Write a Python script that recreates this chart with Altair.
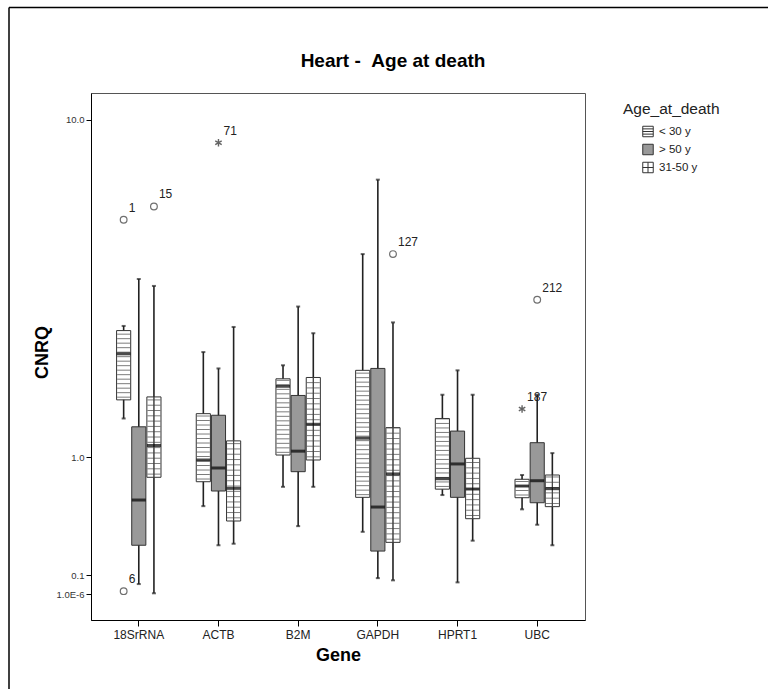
import math
import altair as alt
import pandas as pd

# ---- data -------------------------------------------------------------
genes = ["18SrRNA", "ACTB", "B2M", "GAPDH", "HPRT1", "UBC"]
groups = ["< 30 y", "> 50 y", "31-50 y"]

# box-plot summaries, gene by gene, each in the order of `groups`
whisker_low = [1.43, 0.052, 0.004,
               0.56, 0.28, 0.29,
               0.72, 0.41, 0.72,
               0.37, 0.084, 0.072,
               0.65, 0.061, 0.31,
               0.535, 0.42, 0.28]
q1 = [1.67, 0.28, 0.805,
      0.765, 0.684, 0.447,
      1.02, 0.857, 0.97,
      0.631, 0.243, 0.299,
      0.70, 0.631, 0.464,
      0.628, 0.587, 0.556]
median = [2.37, 0.609, 1.12,
          0.97, 0.892, 0.707,
          1.86, 1.06, 1.36,
          1.20, 0.553, 0.836,
          0.792, 0.931, 0.701,
          0.727, 0.774, 0.704]
q3 = [2.79, 1.33, 1.71,
      1.49, 1.47, 1.17,
      1.97, 1.73, 1.99,
      2.10, 2.13, 1.32,
      1.43, 1.28, 0.987,
      0.787, 1.15, 0.826]
whisker_high = [2.88, 3.92, 3.75,
                2.40, 2.13, 2.86,
                2.18, 3.28, 2.74,
                4.58, 7.13, 2.95,
                1.74, 2.10, 1.74,
                0.826, 1.74, 1.04]

# flagged cases: outliers (circle) and extremes (star)
out_gene = ["18SrRNA", "18SrRNA", "18SrRNA", "ACTB", "GAPDH", "UBC", "UBC"]
out_group = ["< 30 y", "< 30 y", "31-50 y", "> 50 y", "31-50 y", "< 30 y", "> 50 y"]
out_value = [5.64, 0.015, 6.10, 8.8, 4.58, 1.55, 3.43]
out_case = ["1", "6", "15", "71", "127", "187", "212"]
out_kind = ["circle", "circle", "circle", "star", "circle", "star", "circle"]

boxes = pd.DataFrame({
    "gene": [g for g in genes for _ in groups],
    "group": groups * len(genes),
    "wlo": whisker_low, "q1": q1, "med": median, "q3": q3, "whi": whisker_high,
})
cases = pd.DataFrame({"gene": out_gene, "group": out_group, "value": out_value,
                      "case": out_case, "kind": out_kind})

# ---- layout -------------------------------------------------------------
W, H = 494, 527
Y_DOMAIN = [-0.14, 11.6]
F_SPAN = math.log1p(Y_DOMAIN[1]) + math.log1p(-Y_DOMAIN[0])
# hatch spacing expressed in symlog units (pixels -> transformed scale units)
STEP_LINES = 4.5 * F_SPAN / H
STEP_GRID = 5.3 * F_SPAN / H

FONT = "Liberation Sans"
INK = "#222222"

HLINE_PATH = "M-1,-1H1V1H-1Z M-1,-0.5H1 M-1,0H1 M-1,0.5H1"
GRID_PATH = "M-1,-1H1V1H-1Z M-1,0H1 M0,-1V1"
STAR_PATH = "M0,-1V1 M-0.87,-0.5L0.87,0.5 M-0.87,0.5L0.87,-0.5"

x_enc = alt.X(
    "gene:N",
    scale=alt.Scale(domain=genes, paddingInner=0.0625, paddingOuter=0.131),
    axis=alt.Axis(title="Gene", labelAngle=0, tickSize=6, tickColor="#000",
                  domainColor="#000", labelFontSize=12, labelColor=INK,
                  labelPadding=3, titleFontSize=18, titleFontWeight="bold",
                  titleColor="#000", titlePadding=6, bandPosition=0.5),
)
xo_enc = alt.XOffset(
    "group:N",
    scale=alt.Scale(domain=groups, paddingInner=0.0667, paddingOuter=1),
)
y_scale = alt.Scale(type="symlog", constant=1, domain=Y_DOMAIN, nice=False, zero=False)
y_axis = alt.Axis(
    values=[0.000001, 0.1, 1, 10],
    labelExpr="datum.value < 0.001 ? '1.0E-6' : format(datum.value, '.1f')",
    grid=False, tickSize=5, tickColor="#000", domainColor="#000",
    labelFontSize=9.5, labelColor="#333", labelPadding=2, labelOverlap=False,
    titleFontSize=18, titleFontWeight="bold", titleColor="#000",
    titleX=-49, titleY=259, titleAlign="center", titleBaseline="middle",
)


def y_enc(field):
    return alt.Y(field, scale=y_scale, axis=y_axis, title="CNRQ")


legend = alt.Legend(
    title="Age_at_death", orient="none", legendX=532, legendY=9, padding=0,
    symbolOffset=19, symbolSize=110, symbolStrokeWidth=1,
    titleFontWeight="normal", titleFontSize=15.5, titleColor=INK,
    titlePadding=8, labelFontSize=11.5, labelColor=INK,
    labelOffset=5, rowPadding=2, symbolOpacity=1,
)
fill_enc = alt.Fill("group:N", scale=alt.Scale(domain=groups,
                    range=["#ffffff", "#999999", "#ffffff"]), legend=legend)
shape_enc = alt.Shape("group:N", scale=alt.Scale(domain=groups,
                      range=[HLINE_PATH, "square", GRID_PATH]), legend=legend)
stroke_enc = alt.Stroke("group:N", scale=alt.Scale(domain=groups,
                        range=["#333333", "#333333", "#333333"]), legend=legend)

base = alt.Chart(boxes)

# symbols carrying the legend, tucked under the boxes
legend_marks = base.mark_point(filled=True, size=20, strokeWidth=1, opacity=1).encode(
    x=x_enc, xOffset=xo_enc, y=y_enc("med:Q"),
    fill=fill_enc, shape=shape_enc, stroke=stroke_enc)

whiskers = base.mark_rule(color=INK, strokeWidth=1.6).encode(
    x=x_enc, xOffset=xo_enc, y=y_enc("wlo:Q"), y2="whi:Q")
cap_low = base.mark_tick(size=4, thickness=2, color=INK).encode(
    x=x_enc, xOffset=xo_enc, y=y_enc("wlo:Q"))
cap_high = base.mark_tick(size=4, thickness=2, color=INK).encode(
    x=x_enc, xOffset=xo_enc, y=y_enc("whi:Q"))

box = base.mark_bar(stroke="#333", strokeWidth=1).encode(
    x=x_enc, xOffset=xo_enc, y=y_enc("q1:Q"), y2="q3:Q", fill=fill_enc)


def hatch(group, step):
    return (
        base.transform_filter(alt.datum.group == group)
        .transform_calculate(k="sequence(0, 90)")
        .transform_flatten(["k"])
        .transform_calculate(hy=f"exp(log(1 + datum.q1) + (datum.k + 0.6) * {step}) - 1")
        .transform_filter("datum.hy < datum.q3")
        .mark_tick(size=13, thickness=1, color="#444")
        .encode(x=x_enc, xOffset=xo_enc, y=y_enc("hy:Q"))
    )


lines_fill = hatch(groups[0], STEP_LINES)
grid_fill = hatch(groups[2], STEP_GRID)
grid_cols = [
    base.transform_filter(alt.datum.group == groups[2])
    .mark_rule(color="#444", strokeWidth=1, xOffset=dx)
    .encode(x=x_enc, xOffset=xo_enc, y=y_enc("q1:Q"), y2="q3:Q")
    for dx in (-2.4, 2.4)
]

medians = base.mark_tick(size=14, thickness=3, color="#000").encode(
    x=x_enc, xOffset=xo_enc, y=y_enc("med:Q"))

case_base = alt.Chart(cases)
circles = case_base.transform_filter(alt.datum.kind == "circle").mark_point(
    shape="circle", filled=False, size=45, stroke="#333", strokeWidth=1.2).encode(
    x=x_enc, xOffset=xo_enc, y=y_enc("value:Q"))
stars = case_base.transform_filter(alt.datum.kind == "star").mark_point(
    shape=STAR_PATH, filled=False, size=55, stroke="#222", strokeWidth=1.4).encode(
    x=x_enc, xOffset=xo_enc, y=y_enc("value:Q"))
case_labels = case_base.mark_text(
    align="left", baseline="middle", dx=5, dy=-12, fontSize=12, color=INK).encode(
    x=x_enc, xOffset=xo_enc, y=y_enc("value:Q"), text="case:N")

# outer border of the chart area (left and top edges)
border = alt.Chart(pd.DataFrame({"edge": ["left", "top"]}))
border_left = border.transform_filter(alt.datum.edge == "left").mark_rule(
    color="#000", strokeWidth=1.5).encode(
    x=alt.value(-82), y=alt.value(-85.5), y2=alt.value(620))
border_top = border.transform_filter(alt.datum.edge == "top").mark_rule(
    color="#000", strokeWidth=1.5).encode(
    x=alt.value(-82), x2=alt.value(700), y=alt.value(-85.5))

chart = alt.layer(
    legend_marks, whiskers, cap_low, cap_high, box, lines_fill, grid_fill,
    *grid_cols, medians, circles, stars, case_labels, border_left, border_top,
).properties(
    width=W, height=H,
    autosize=alt.AutoSizeParams(type="none"),
    padding={"left": 91, "top": 93, "right": 183, "bottom": 69},
    title=alt.TitleParams(
        "Heart - \u00a0Age at death", fontSize=19, fontWeight="bold", font=FONT,
        color="#000", anchor="middle", frame="group", dx=55, offset=-79,
        baseline="alphabetic"),
).configure(
    font=FONT, background="#ffffff",
).configure_view(
    stroke="#555", strokeWidth=1,
)

chart.save("out.html", embed_options={"renderer": "svg", "actions": False})
